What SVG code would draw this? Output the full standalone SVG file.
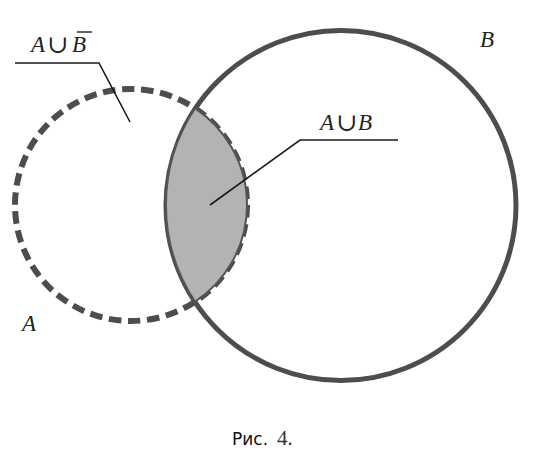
<svg xmlns="http://www.w3.org/2000/svg" width="553" height="466" viewBox="0 0 553 466">
<style>
.m{font-style:italic;font-size:23px;fill:#222}
.cup{font-size:25px;fill:#222}
.lead{fill:none;stroke:#1a1a1a;stroke-width:1.6}
</style>
<rect width="553" height="466" fill="#fff"/>
<g id="circleA">
<circle cx="131" cy="205" r="116" fill="none" stroke="#4d4d4d" stroke-width="6" stroke-dasharray="12.5 6.68"/>
</g>
<g id="circleB">
<circle cx="341" cy="205.5" r="175" fill="none" stroke="#4d4d4d" stroke-width="5"/>
</g>
<g id="lens">
<path d="M195.1,108.3 A175,175 0 0 0 195.1,301.7 A116,116 0 0 0 195.1,108.3 Z" fill="#b3b3b3" stroke="#555" stroke-width="2"/>
</g>
<g id="connectors">
<polyline class="lead" points="15,63 99,63 130,122"/>
<polyline class="lead" points="398,140 300,140 210,205"/>
</g>
<g id="label-AuBbar">
<text class="m" font-family="Liberation Serif, serif" x="31" y="52">A</text>
<text class="cup" font-family="DejaVu Serif, serif" x="47" y="53">∪</text>
<text class="m" font-family="Liberation Serif, serif" x="72" y="52">B</text>
<line x1="77" y1="32" x2="92" y2="32" stroke="#222" stroke-width="1.4"/>
</g>
<g id="label-AuB">
<text class="m" font-family="Liberation Serif, serif" x="320" y="130">A</text>
<text class="cup" font-family="DejaVu Serif, serif" x="336" y="131">∪</text>
<text class="m" font-family="Liberation Serif, serif" x="358" y="130">B</text>
</g>
<g id="label-B"><text class="m" font-family="Liberation Serif, serif" x="480" y="47">B</text></g>
<g id="label-A"><text class="m" font-family="Liberation Serif, serif" x="22" y="331">A</text></g>
<g id="caption">
<text x="232" y="445" font-family="DejaVu Sans, sans-serif" font-size="17" fill="#111">Рис.</text>
<text x="277" y="445" font-family="Liberation Serif, serif" font-size="21" fill="#333">4.</text>
</g>
</svg>
